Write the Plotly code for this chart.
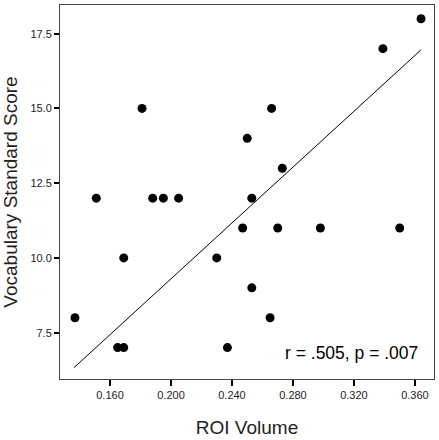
import numpy as np
import plotly.graph_objects as go

# ROI volume vs vocabulary standard score
roi_volume = [0.137, 0.151, 0.165, 0.169, 0.169, 0.181, 0.188, 0.195, 0.205,
              0.230, 0.237, 0.247, 0.250, 0.253, 0.253, 0.265, 0.266, 0.270,
              0.273, 0.298, 0.339, 0.350, 0.364]
vocab_score = [8, 12, 7, 7, 10, 15, 12, 12, 12,
               10, 7, 11, 14, 12, 9, 8, 15, 11,
               13, 11, 17, 11, 18]

# fit line end points
fit_x = [0.1364, 0.364]
fit_y = [6.33, 16.96]

x_ticks = [0.160, 0.200, 0.240, 0.280, 0.320, 0.360]
y_ticks = [7.5, 10.0, 12.5, 15.0, 17.5]
stat_text = "r = .505, p = .007"

font_fam = "Arial, Liberation Sans, sans-serif"

fig = go.Figure()

fig.add_trace(go.Scatter(
    x=fit_x,
    y=fit_y,
    mode="lines",
    line=dict(color="black", width=1),
    showlegend=False,
    hoverinfo="skip"
))

fig.add_trace(go.Scatter(
    x=roi_volume,
    y=vocab_score,
    mode="markers",
    marker=dict(color="black", size=9),
    showlegend=False
))

fig.add_annotation(
    x=0.962, y=0.07,
    xref="x domain", yref="y domain",
    xanchor="right", yanchor="middle",
    text=stat_text,
    showarrow=False,
    font=dict(size=17.5, family=font_fam, color="black")
)

fig.update_layout(
    width=439,
    height=440,
    plot_bgcolor="white",
    paper_bgcolor="white",
    margin=dict(l=60, r=5, t=5, b=61),
    font=dict(family=font_fam, color="black")
)

fig.update_xaxes(
    range=[0.1272, 0.3725],
    tickvals=x_ticks,
    ticktext=[f"{v:.3f}" for v in x_ticks],
    ticks="outside",
    ticklen=6,
    tickwidth=2,
    tickcolor="black",
    tickfont=dict(size=11, family=font_fam, color="#222"),
    showgrid=False,
    zeroline=False,
    showline=True,
    linecolor="#444",
    linewidth=1,
    mirror=True,
    title=dict(text="ROI Volume", font=dict(size=19, family=font_fam, color="#222"),
               standoff=20)
)

fig.update_yaxes(
    range=[5.95, 18.46],
    tickvals=y_ticks,
    ticktext=[f"{v:.1f}" for v in y_ticks],
    ticks="outside",
    ticklen=5,
    tickwidth=2,
    tickcolor="black",
    tickfont=dict(size=11, family=font_fam, color="#222"),
    showgrid=False,
    zeroline=False,
    showline=True,
    linecolor="#444",
    linewidth=1,
    mirror=True,
    title=dict(text="Vocabulary Standard Score", font=dict(size=19, family=font_fam, color="#222"),
               standoff=10)
)

fig.write_html("out.html", config={"displayModeBar": False},
               post_script="document.body.style.margin='0';")
